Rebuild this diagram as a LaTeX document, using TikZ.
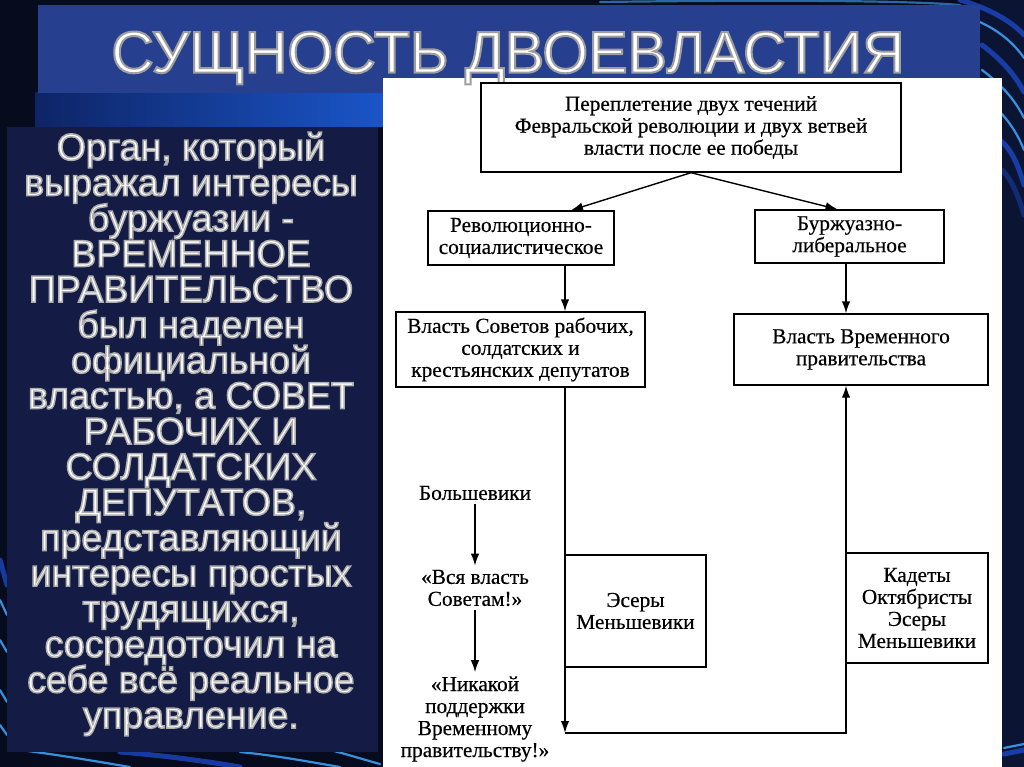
\documentclass[tikz,border=0pt]{standalone}
\usepackage{fontspec}
\setmainfont{Liberation Serif}
\newfontfamily\sansf{Liberation Sans}
\newfontfamily\diagf[FakeBold=0.4]{Liberation Serif}
\usetikzlibrary{arrows.meta}
\definecolor{bgdark}{HTML}{060B1E}
\definecolor{bgnavy}{HTML}{0C1433}
\definecolor{banner}{HTML}{263F8F}
\definecolor{panel}{HTML}{141C46}
\definecolor{bandl}{HTML}{0E2466}
\definecolor{bandr}{HTML}{1A55C8}
\definecolor{streak}{HTML}{3FA8FF}
\definecolor{streakdeep}{HTML}{1E4FD8}
% white letters with a grey outline (PDF text render mode 2)
\newcommand{\ctl}[1]{\special{pdf:literal direct 2 Tr 0.68 0.68 0.68 RG 1.5 w}#1\special{pdf:literal direct 0 Tr}}
\newcommand{\ctlbig}[1]{\special{pdf:literal direct 2 Tr 0.62 0.62 0.62 RG 2 w}#1\special{pdf:literal direct 0 Tr}}
\begin{document}
\begin{tikzpicture}[x=1pt,y=-1pt,
  box/.style={draw=black, line width=1.4pt, fill=white, align=center, inner sep=0pt,
    font=\diagf\fontsize{21.3}{22}\selectfont, text=black},
  lbl/.style={align=center, inner sep=4pt, font=\diagf\fontsize{21.3}{22}\selectfont, text=black},
  conn/.style={line width=1.4pt, draw=black},
  arr/.style={conn, -{Latex[length=12pt,width=8.5pt]}},
  streakline/.style={streak, line width=2.2pt, line cap=round, opacity=0.85},
  deepline/.style={streakdeep, line width=5pt, line cap=round, opacity=0.7}
]
\useasboundingbox (0,0) rectangle (1024,767);
% background
\fill[bgdark] (0,0) rectangle (1024,767);
\fill[bgnavy] (980,0) rectangle (1024,767);
\fill[left color=bandl, right color=bandr] (35,93) rectangle (383,127);
% streaks top right
\draw[deepline] (960,0) .. controls (995,10) and (1015,25) .. (1024,35);
\draw[streakline] (975,20) .. controls (1000,30) and (1015,45) .. (1024,58);
\draw[deepline] (982,45) .. controls (1002,60) and (1015,75) .. (1024,92);
\draw[streakline] (982,70) .. controls (1002,85) and (1015,100) .. (1024,118);
\draw[streakline] (998,110) .. controls (1010,122) and (1018,135) .. (1024,150);
\draw[deepline] (1000,140) .. controls (1012,150) and (1018,165) .. (1024,185);
\draw[deepline, opacity=0.4] (1002,170) .. controls (1012,180) and (1018,195) .. (1024,215);
\draw[streakline, opacity=0.6] (600,2) .. controls (750,0) and (900,0) .. (960,5);
% streaks bottom
\draw[streakline] (20,750) .. controls (60,755) and (100,762) .. (130,767);
\draw[deepline] (120,752) .. controls (170,756) and (210,762) .. (240,767);
\draw[streakline] (240,752) .. controls (280,756) and (310,762) .. (340,767);
\draw[streakline] (330,750) .. controls (350,755) and (365,760) .. (380,764);
\draw[deepline] (1004,754) -- (1024,750);
\draw[streakline] (1004,748) -- (1024,744);
% left edge streaks
\draw[deepline] (0,560) -- (7,585);
\draw[streakline] (0,600) -- (7,615);
\draw[streakline] (0,640) -- (7,652);
\draw[streakline] (0,690) -- (7,702);
\draw[streakline] (0,725) -- (7,735);
% panels
\fill[banner] (38,5) rectangle (980,93);
\fill[panel] (7,127) rectangle (378,752);
\fill[white] (383,78) rectangle (1002,767);
% title
\node[text=white, inner sep=0pt, font=\sansf\fontsize{59}{59}\selectfont] (title) at (508,58) {\ctlbig{СУЩНОСТЬ ДВОЕВЛАСТИЯ}};
% left text
\node[text=white, align=center, inner sep=0pt, font=\sansf\fontsize{37.5}{35.5}\selectfont] (lefttext) at (191,434)
 {\ctl{Орган, который}\\\ctl{выражал интересы}\\\ctl{буржуазии -}\\\ctl{ВРЕМЕННОЕ}\\\ctl{ПРАВИТЕЛЬСТВО}\\\ctl{был наделен}\\\ctl{официальной}\\\ctl{властью, а СОВЕТ}\\\ctl{РАБОЧИХ И}\\\ctl{СОЛДАТСКИХ}\\\ctl{ДЕПУТАТОВ,}\\\ctl{представляющий}\\\ctl{интересы простых}\\\ctl{трудящихся,}\\\ctl{сосредоточил на}\\\ctl{себе всё реальное}\\\ctl{управление.}};
% diagram
\coordinate (lx) at (565,0);
\coordinate (rx) at (846,0);
\coordinate (bl) at (565,733);
\coordinate (br) at (846,733);
\node[box, minimum width=420pt, minimum height=89pt] (top) at (691,127.5)
 {Переплетение двух течений\\Февральской революции и двух ветвей\\власти после ее победы};
\node[box, minimum width=186pt, minimum height=54pt] (rev) at (521,238)
 {Революционно-\\социалистическое};
\node[box, minimum width=189pt, minimum height=53pt] (burz) at (849.5,236.5)
 {Буржуазно-\\либеральное};
\node[box, minimum width=249pt, minimum height=75pt] (sov) at (520.5,349.5)
 {Власть Советов рабочих,\\солдатских и\\крестьянских депутатов};
\node[box, minimum width=254pt, minimum height=71pt] (vrem) at (861,349.5)
 {Власть Временного\\правительства};
\node[box, minimum width=141pt, minimum height=112pt] (eser) at (635.5,611)
 {Эсеры\\Меньшевики};
\node[box, minimum width=142pt, minimum height=110pt] (kad) at (917,608)
 {Кадеты\\Октябристы\\Эсеры\\Меньшевики};
\node[lbl] (bol) at (475,493) {Большевики};
\node[lbl] (vsya) at (475,588) {«Вся власть\\Советам!»};
\node[lbl] (nik) at (475,719) {«Никакой\\поддержки\\Временному\\правительству!»};
% connectors
\draw[arr] (top.south) -- ([xshift=50pt]rev.north);
\draw[arr] (top.south) -- ([xshift=-12pt]burz.north);
\draw[arr] (rev.south -| lx) -- (sov.north -| lx);
\draw[arr] (burz.south -| rx) -- (vrem.north -| rx);
\draw[arr] (sov.south -| lx) -- (bl);
\draw[arr] (bl) -- (br) -- (vrem.south -| rx);
\draw[arr] (bol) -- (vsya);
\draw[arr] (vsya) -- (nik);
\end{tikzpicture}
\end{document}
